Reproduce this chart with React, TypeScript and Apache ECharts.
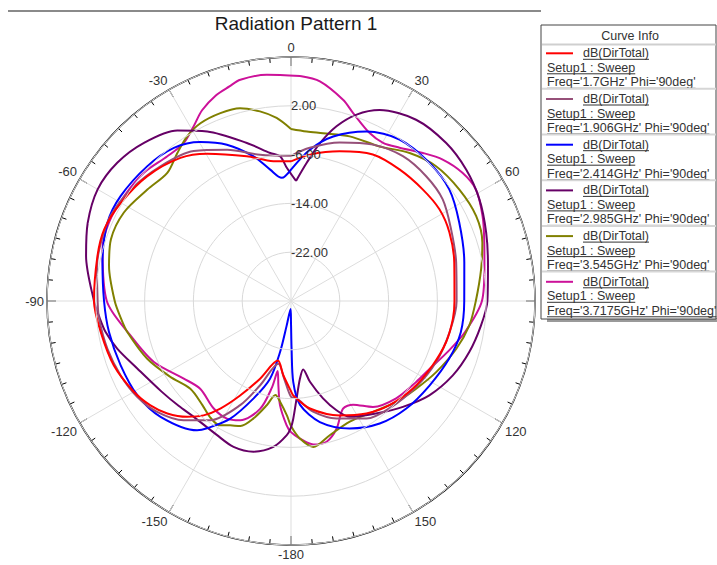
import React, { useEffect, useRef } from "react";
import * as echarts from "echarts";

// ---- axis setup ----
const R_MIN = -30;
const R_MAX = 10;
const R_STEP = 8;
const ANGLE_STEP = 30;
const HIDDEN_ANGLE_LABELS = [90, 360]; // 90 sits under the legend box in the reference

// ---- texts ----
const TITLE = "Radiation Pattern 1";
const LEGEND_TITLE = "Curve Info";
const CURVE_NAME = "dB(DirTotal)";
const SETUP_NAME = "Setup1 : Sweep";
const FREQS = ["1.7GHz", "1.906GHz", "2.414GHz", "2.985GHz", "3.545GHz", "3.7175GHz"];
const COLORS = ["#ff0000", "#965079", "#0000ff", "#660066", "#808000", "#cc1199"];

// ---- data: [theta (deg), dB] ----
const f1700: [number, number][] = [
  [-180, -15.2], [-174, -17.8], [-167.5, -20], [-158.3, -16.3], [-151.7, -12.4], [-146.7, -8.9],
  [-142.6, -6.4], [-138.1, -4.5], [-132.3, -2.6], [-126.6, -1.3], [-120, -0.25], [-110, 0.9],
  [-99.3, 1.6], [-90, 2.3], [-77, 2.57], [-69, 2.8], [-60, 2.2], [-49, 1.2], [-37.7, -0.35],
  [-29.7, -2.2], [-17, -5.2], [-7.2, -6.9], [0, -7.1], [7.4, -5.8], [18, -4.2], [29.2, -2.5],
  [39.5, -2.05], [49.7, -1.7], [58.3, -1.4], [66.6, -1.7], [76.7, -2.5], [90, -3.2], [96.3, -3.3],
  [104.9, -3.7], [114.4, -4.5], [125.7, -5.4], [136.6, -6.5], [146.2, -7.8], [156.9, -9.6],
  [170, -12.1], [178.6, -14.5], [180, -15.2],
];
const f1906: [number, number][] = [
  [-180, -14.3], [-175, -17.2], [-168.6, -19.5], [-159.9, -15.3], [-154, -11], [-145.9, -6.4],
  [-138, -3.7], [-129.6, -1.5], [-122, -0.3], [-113.6, 0.47], [-104.6, 1.1], [-95.3, 1.6],
  [-90, 1.7], [-80, 2.3], [-72.9, 2.6], [-64.8, 2.7], [-55.2, 2.0], [-44.1, 0.75], [-33, -0.7],
  [-22.9, -3.1], [-11.9, -5.5], [0, -6.2], [7, -4.7], [17.1, -2.8], [27.7, -1.05], [37.7, 0],
  [47.3, 0.15], [56.2, -0.07], [65.9, -1.25], [76.9, -2.2], [90, -2.85], [101, -3.5],
  [112.8, -4.2], [124, -5.1], [137, -6.1], [147.3, -7.1], [158.8, -9.35], [168.7, -11.5],
  [176.7, -14], [180, -14.3],
];
const f2414: [number, number][] = [
  [-180, -26.5], [-177, -28.7], [-170, -25.9], [-167.9, -21.4], [-164.9, -16.8], [-159, -12.9],
  [-152.7, -8.3], [-146.6, -5.0], [-144, -3.8], [-131.6, -1.4], [-121.5, -0.45], [-110.7, -0.15],
  [-99.7, 0.27], [-90, 0.65], [-78.4, 1.55], [-66.9, 2.7], [-58.4, 2.8], [-46.8, 2.3],
  [-37.4, 1.6], [-29.7, 0], [-22.3, -2.3], [-14.5, -5.5], [-9, -8.2], [-4.3, -9.75], [0, -8.45],
  [7.1, -5.0], [14.4, -2.15], [24, 0.43], [33.9, 1.9], [45.1, 2.06], [54.8, 1.75], [65, 0.43],
  [77.5, -0.9], [90, -1.6], [100.4, -1.7], [110, -2.4], [121.4, -3.4], [133, -4.15],
  [144.1, -5.2], [155.3, -7.0], [166.6, -9.6], [175, -12.9], [178.4, -16.7], [179.3, -22.2],
  [180, -26.5],
];
const f2985: [number, number][] = [
  [-180, -9.3], [-178.2, -8.0], [-173.1, -5.9], [-166, -4.55], [-158.5, -4.3], [-151, -4.9],
  [-140, -5.2], [-133, -4.8], [-125, -4.1], [-113.8, -2.5], [-105.4, -0.48], [-99.6, 0.8],
  [-95, 1.5], [-90, 2.3], [-77.6, 4.4], [-69, 5.7], [-60, 6.6], [-51.5, 6.4], [-42.9, 5.4],
  [-33.7, 3.6], [-26.3, 1.0], [-15.6, -3.1], [-8, -5.5], [-4.3, -6.2], [-1.8, -8.15],
  [2.4, -10.3], [6.5, -7.2], [10.4, -3.7], [14.6, -0.4], [19.4, 2.4], [24.9, 4.5], [34.6, 6.1],
  [44.5, 6.3], [53.1, 5.9], [61.6, 5.1], [70.7, 3.9], [79.9, 2.8], [90, 2.2], [97.4, 1.4],
  [106, 0.4], [114.7, -0.8], [124.3, -2.55], [133.4, -4.75], [143, -6.9], [153.1, -8.7],
  [157.4, -10.6], [161.8, -13.2], [166.8, -16.4], [169.9, -18.6], [173.4, -17.2], [176.7, -14],
  [178.9, -10.7], [180, -9.3],
];
const f3545: [number, number][] = [
  [-180, -9.5], [-178, -11.2], [-173.8, -13.4], [-170.6, -14.4], [-166.9, -12.45], [-162.3, -9.8],
  [-158, -7.9], [-153.9, -7.3], [-150, -6.5], [-145, -6.8], [-139.5, -7.6], [-131.1, -8.1],
  [-122, -6.6], [-111.9, -4.6], [-100.8, -2.7], [-96, -2.0], [-90, -1.1], [-79.1, 0.38],
  [-71.1, 1.2], [-62.1, 1.0], [-52.2, -0.2], [-44, -0.8], [-37.5, 0.6], [-32.3, 1.9], [-27, 2.7],
  [-20.6, 2.9], [-14.8, 2.7], [-9.3, 1.5], [-4.5, 0.1], [0, -1.8], [5.3, -2.1], [10.8, -2.0],
  [19.6, -1.35], [29.8, -0.8], [38.7, 1.1], [47.1, 2.46], [56.5, 3.1], [65.3, 3.4], [73, 2.8],
  [80.5, 1.6], [90, 0.3], [97.9, -0.5], [106.2, -1.8], [116.1, -3.5], [125, -4.95],
  [133.8, -6.1], [143.5, -7.4], [154, -8.0], [163.9, -7.1], [171.3, -5.8], [176.3, -7.4],
  [180, -9.5],
];
const f3717: [number, number][] = [
  [-180, -8.5], [-178, -9.6], [-174, -12.8], [-171.5, -16], [-169.2, -18.3], [-167.6, -15.5],
  [-164, -11.6], [-156.9, -8.75], [-151.4, -8.05], [-144.3, -8.3], [-134, -9.3], [-125.9, -8.3],
  [-114, -5.4], [-102.2, -3.1], [-90, 0.2], [-74.6, 2.05], [-66.7, 2.5], [-57.9, 2.3],
  [-48.9, 2.0], [-40.5, 1.2], [-34.2, 1.3], [-29.1, 2.8], [-25, 4.5], [-20, 5.9], [-16, 6.6],
  [-12.9, 7.2], [-6.1, 7.3], [2.3, 6.9], [7.5, 6.3], [14.5, 4.07], [18.3, 2.45], [25.1, 0.4],
  [30.2, 0], [35.3, 0.8], [41.7, 2.5], [47, 4.0], [53.2, 5.1], [58.9, 5.4], [66.1, 4.35],
  [73.2, 3.1], [80, 2.2], [90, 1.3], [100, -1.0], [108, -3.0], [115.5, -4.6], [122.9, -5.56],
  [132.8, -6.5], [142.3, -8.04], [149.1, -10.2], [154.2, -10.4], [160.3, -7.8], [165.8, -6.2],
  [171.2, -6.2], [176.3, -7.4], [180, -8.5],
];
const CURVES = [f1700, f1906, f2414, f2985, f3545, f3717];
const DRAW_ORDER = [5, 4, 3, 2, 1, 0];

const FONT = "Liberation Sans";

// map theta in [-180,180] onto an angle axis running 0..360 clockwise from the top
function toPolar(pairs: [number, number][]) {
  const pos = pairs.filter((p) => p[0] >= 0).map(([t, v]) => [v - R_MIN, t]);
  const neg = pairs.filter((p) => p[0] < 0).map(([t, v]) => [v - R_MIN, t + 360]);
  const out = [...pos, ...neg];
  if (pos.length) out.push([pos[0][0], pos[0][1] + 360]);
  return out;
}

function measure(text: string, size: number) {
  const ctx = document.createElement("canvas").getContext("2d");
  if (!ctx) return text.length * size * 0.5;
  ctx.font = `${size}px "${FONT}"`;
  return ctx.measureText(text).width;
}

function buildLegend() {
  const els: any[] = [];
  const bx = 541, by = 25, bw = 175, bh = 294;
  const fs = 12.5;
  const txtColor = "#333333";
  els.push({ type: "rect", shape: { x: 547, y: by + bh - 1, width: 170, height: 4 }, style: { fill: "#9a9a9a" }, z: 10 });
  els.push({ type: "rect", shape: { x: bx, y: by, width: bw, height: bh }, style: { fill: "#ffffff", stroke: "#444", lineWidth: 1 }, z: 11 });
  els.push({
    type: "text", x: 630, y: 35.5, z: 12,
    style: { text: LEGEND_TITLE, fill: txtColor, fontSize: fs, fontFamily: FONT, align: "center", verticalAlign: "middle", textAlign: "center", textVerticalAlign: "middle" },
  });
  els.push({ type: "line", shape: { x1: bx + 1, y1: 44.5, x2: bx + bw, y2: 44.5 }, style: { stroke: "#cfcfcf", lineWidth: 2 }, z: 12 });
  const addText = (text: string, x: number, y: number) => {
    els.push({
      type: "text", x, y, z: 12,
      style: { text, fill: txtColor, fontSize: fs, fontFamily: FONT, align: "left", verticalAlign: "middle", textAlign: "left", textVerticalAlign: "middle" },
    });
    const w = measure(text, fs);
    els.push({ type: "line", shape: { x1: x, y1: y + 6, x2: x + w, y2: y + 6 }, style: { stroke: txtColor, lineWidth: 1 }, z: 12 });
  };
  FREQS.forEach((f, i) => {
    const y0 = 53.3 + i * 45.7;
    els.push({ type: "line", shape: { x1: 546, y1: y0, x2: 573, y2: y0 }, style: { stroke: COLORS[i], lineWidth: 2 }, z: 12 });
    addText(CURVE_NAME, 583, y0);
    addText(SETUP_NAME, 547, y0 + 14.5);
    addText(`Freq='${f}' Phi='90deg'`, 547, y0 + 29);
    if (i < FREQS.length - 1) {
      els.push({ type: "line", shape: { x1: bx + 1, y1: y0 + 35.5, x2: bx + bw, y2: y0 + 35.5 }, style: { stroke: "#d6d6d6", lineWidth: 2 }, z: 12 });
    }
  });
  // top frame line
  els.push({ type: "line", shape: { x1: 8, y1: 11, x2: 541, y2: 11 }, style: { stroke: "#8a8a8a", lineWidth: 2 }, z: 5 });
  return els;
}

export default function App() {
  const ref = useRef<HTMLDivElement>(null);
  useEffect(() => {
    if (!ref.current) return;
    const chart = echarts.init(ref.current, undefined, { renderer: "svg" });
    const series = DRAW_ORDER.map((i) => ({
      name: FREQS[i],
      type: "line",
      coordinateSystem: "polar",
      data: toPolar(CURVES[i]),
      showSymbol: false,
      symbol: "none",
      smooth: 0.3,
      lineStyle: { color: COLORS[i], width: 2 },
      silent: true,
    }));
    chart.setOption({
      animation: false,
      title: {
        text: TITLE,
        left: 291,
        top: 9,
        textAlign: "center",
        textStyle: { fontSize: 19, fontWeight: "normal", color: "#1a1a1a", fontFamily: FONT },
      },
      polar: { center: [291, 301], radius: 244 },
      angleAxis: {
        type: "value",
        min: 0,
        max: 360,
        interval: ANGLE_STEP,
        startAngle: 90,
        clockwise: true,
        axisLine: { show: true, lineStyle: { color: "#000", width: 1.5 } },
        axisTick: { show: true, inside: true, length: 9, lineStyle: { color: "#000", width: 1 } },
        minorTick: { show: true, splitNumber: 6, length: 5, lineStyle: { color: "#000", width: 1 } },
        splitLine: { show: true, lineStyle: { color: "#dddddd", width: 1 } },
        axisLabel: {
          show: true,
          margin: 3,
          color: "#333",
          fontSize: 13,
          fontFamily: FONT,
          formatter: (v: number) =>
            HIDDEN_ANGLE_LABELS.includes(v) ? "" : v === 180 ? "-180" : v > 180 ? String(v - 360) : String(v),
        },
      },
      radiusAxis: {
        type: "value",
        min: 0,
        max: R_MAX - R_MIN,
        interval: R_STEP,
        axisLine: { show: false },
        axisTick: { show: false },
        splitLine: { show: true, lineStyle: { color: "#d9d9d9", width: 1 } },
        axisLabel: {
          show: true,
          color: "#333",
          fontSize: 13,
          fontFamily: FONT,
          align: "left",
          verticalAlign: "middle",
          margin: 0,
          formatter: (v: number) => (v <= 0 || v >= R_MAX - R_MIN ? "" : (v + R_MIN).toFixed(2)),
        },
        z: 10,
      },
      graphic: buildLegend(),
      series,
    });
    return () => chart.dispose();
  }, []);
  return <div ref={ref} style={{ position: "fixed", left: 0, top: 0, width: 717, height: 565, background: "#fff" }} />;
}
